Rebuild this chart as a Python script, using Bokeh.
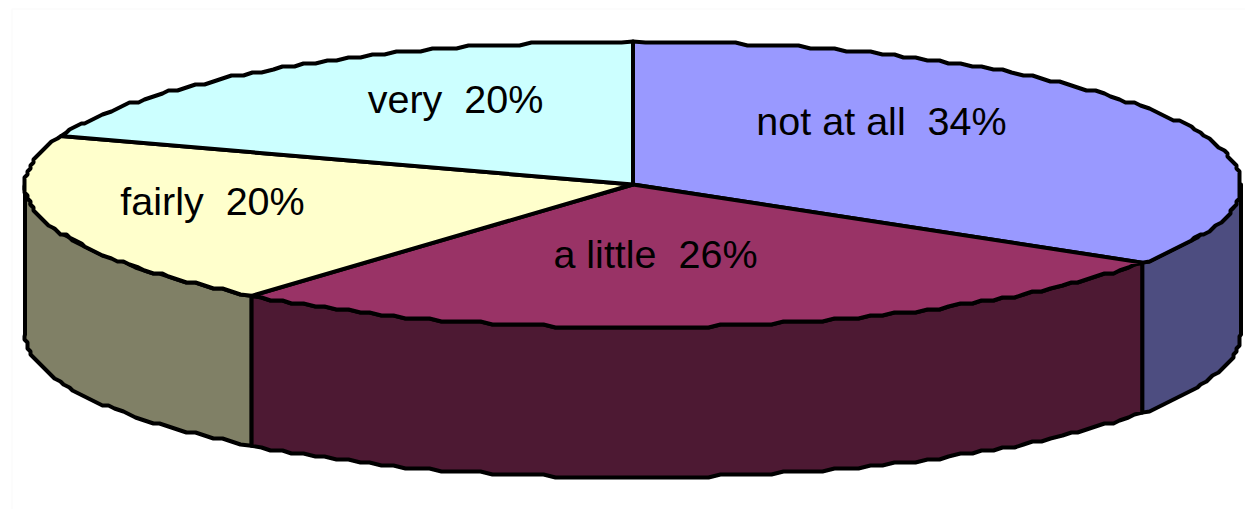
import numpy as np
from bokeh.plotting import figure
from bokeh.models import ColumnDataSource, Range1d, BoxAnnotation
from bokeh.core.properties import value
from bokeh.embed import file_html
from bokeh.resources import INLINE

# Data
categories = ["not at all", "a little", "fairly", "very"]
shares = [34.2, 26.6, 19.7, 19.5]
shown_pct = ["34%", "26%", "20%", "20%"]
top_colors = ["#9999FF", "#993366", "#FFFFCC", "#CCFFFF"]
side_colors = ["#4D4D80", "#4D1933", "#808066", "#668080"]

# Layout (page pixels)
CX, CY, RX, RY, DEPTH = 632.5, 184.0, 608.0, 143.0, 150.0
GRID = 3.0
label_x = [881, 655, 212, 455]
label_y = [120.5, 253.5, 200.5, 98.5]


def rim(a0, a1, dy=0.0):
    """Points on the elliptical rim between two angles (deg, clockwise from top)."""
    n = max(2, int(abs(a1 - a0) / 1.2) + 1)
    ang = np.radians(np.linspace(a0, a1, n))
    x = CX + RX * np.sin(ang)
    y = CY - RY * np.cos(ang)
    # The reference outline has a coarse, stair-stepped raster look
    xs = np.round(x / GRID) * GRID
    ys = np.round(y / GRID) * GRID
    xs[0], xs[-1], ys[0], ys[-1] = x[0], x[-1], y[0], y[-1]
    return xs, ys + dy


edges = np.concatenate([[0.0], np.cumsum(shares)]) / sum(shares) * 360.0

p = figure(width=1245, height=509, x_range=Range1d(0, 1245), y_range=Range1d(509, 0),
           toolbar_location=None, output_backend="svg", min_border=0,
           background_fill_color="white", border_fill_color="white", outline_line_color=None)
p.axis.visible = False
p.grid.visible = False

p.add_layout(BoxAnnotation(left=11.5, right=1400, top=8.5, bottom=800, fill_alpha=0,
                           line_color="#F3F3F3", line_width=1.5))

# Side walls: only the front half of the rim shows
wall_x, wall_y, wall_c = [], [], []
for i in range(len(shares)):
    a0, a1 = max(edges[i], 90.0), min(edges[i + 1], 270.0)
    if a1 <= a0:
        continue
    tx, ty = rim(a0, a1)
    bx, by = rim(a0, a1, DEPTH)
    wall_x.append(np.concatenate([tx, bx[::-1]]).tolist())
    wall_y.append(np.concatenate([ty, by[::-1]]).tolist())
    wall_c.append(side_colors[i])
p.patches("x", "y", fill_color="c", line_color="black", line_width=4, line_join="round",
          source=ColumnDataSource(dict(x=wall_x, y=wall_y, c=wall_c)))

# Top face
top_x, top_y = [], []
for i in range(len(shares)):
    tx, ty = rim(edges[i], edges[i + 1])
    top_x.append([CX] + tx.tolist())
    top_y.append([CY] + ty.tolist())
p.patches("x", "y", fill_color="c", line_color="black", line_width=4, line_join="round",
          source=ColumnDataSource(dict(x=top_x, y=top_y, c=top_colors)))

labels = [f"{c}\u00a0\u00a0{s}" for c, s in zip(categories, shown_pct)]
p.text("x", "y", text="t", text_font=value("Liberation Sans"), text_font_size="39.5px",
       text_align="center", text_baseline="middle", text_color="black",
       source=ColumnDataSource(dict(x=label_x, y=label_y, t=labels)))

open("out.html", "w").write(file_html(p, INLINE))
